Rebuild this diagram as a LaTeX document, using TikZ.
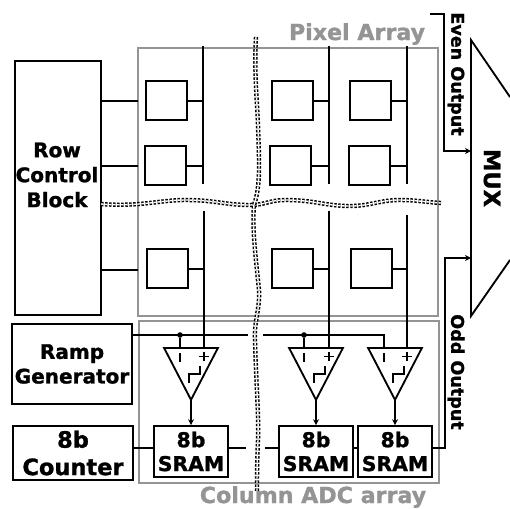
\documentclass[tikz,border=0pt]{standalone}
\usepackage{fontspec}
\setmainfont[BoldFeatures={FakeBold=1.2}]{DejaVu Sans}
\usetikzlibrary{shapes.geometric,arrows.meta}
\tikzset{
  blockbox/.style={draw,line width=1.05pt,inner sep=0pt,font=\bfseries\fontsize{11.4}{14}\selectfont,align=center},
  blocktext/.style={inner sep=0pt,font=\bfseries\fontsize{11.4}{14.2}\selectfont,align=center},
  pixelbox/.style={draw,line width=1.05pt,minimum width=23.2pt,minimum height=22.4pt,inner sep=0pt,anchor=north west},
  srambox/.style={blockbox,font=\bfseries\fontsize{11.6}{13.6}\selectfont,minimum width=41.9pt,minimum height=28.9pt},
  comparator/.style={draw,line width=1.05pt,isosceles triangle,isosceles triangle stretches,shape border rotate=-90,minimum width=30.6pt,minimum height=29.5pt,inner sep=0pt,outer sep=0pt,anchor=lower side},
  ld/.style={line width=1.05pt},
  toarrow/.style={line width=1.05pt,-{Stealth[length=3.4pt,width=3.4pt]}},
  regionbox/.style={draw=black!42,line width=1.1pt},
  regionlabel/.style={text=black!42,font=\bfseries\fontsize{12.6}{14}\selectfont},
  sidelabel/.style={font=\bfseries\fontsize{10}{12}\selectfont,rotate=-90},
  breakline/.style={double,double distance=0.8pt,line width=0.85pt,dash pattern=on 1.4pt off 0.9pt}
}

\begin{document}
\begin{tikzpicture}[x=0.02cm,y=-0.02cm]
\useasboundingbox (0,0) rectangle (510,508);

\draw[regionbox] (138,48) rectangle (438,316);
\draw[regionbox] (139,321) rectangle (439,483);
\node[regionlabel] (pixlabel) at (357,34) {Pixel Array};
\node[regionlabel] (adclabel) at (313,497) {Column ADC array};

\node[blockbox,minimum width=48.8pt,minimum height=145pt] (row) at (58,188) {};
\node[blocktext] (rowtext) at (57,175) {Row\\Control\\Block};
\node[blockbox,minimum width=68pt,minimum height=45.4pt] (ramp) at (72,364) {Ramp\\Generator};
\node[blockbox,font=\bfseries\fontsize{12.8}{15.6}\selectfont,minimum width=68pt,minimum height=30.6pt] (counter) at (73,453) {8b\\Counter};

% pixels
\node[pixelbox] (p11) at (145,80) {};
\node[pixelbox] (p12) at (271,80) {};
\node[pixelbox] (p13) at (349,80) {};
\node[pixelbox] (p21) at (144,145) {};
\node[pixelbox] (p22) at (269,145) {};
\node[pixelbox] (p23) at (348,145) {};
\node[pixelbox] (p31) at (146,248) {};
\node[pixelbox] (p32) at (271,248) {};
\node[pixelbox] (p33) at (350,248) {};

\node[comparator] (c1) at (191,348) {};
\node[comparator] (c2) at (316,348) {};
\node[comparator] (c3) at (395,348) {};

\node[srambox] (s1) at (191,451.5) {8b\\SRAM};
\node[srambox] (s2) at (316,451.5) {8b\\SRAM};
\node[srambox] (s3) at (395,451.5) {8b\\SRAM};

% column lines, broken at the wavy cut
\coordinate (b1top) at (203,46);
\coordinate (b2top) at (329,46);
\coordinate (b3top) at (407,46);
\coordinate (b1end) at (203,184);
\coordinate (b2end) at (329,184);
\coordinate (b3end) at (407,184);
\coordinate (b1low) at (204,211);
\coordinate (b2low) at (329,211);
\coordinate (b3low) at (407,215);
\coordinate (b1in) at (204,348);
\coordinate (b2in) at (329,348);
\coordinate (b3in) at (407,348);
\draw[ld] (b1top)--(b1end);
\draw[ld] (b2top)--(b2end);
\draw[ld] (b3top)--(b3end);
\draw[ld] (b1low)--(b1in);
\draw[ld] (b2low)--(b2in);
\draw[ld] (b3low)--(b3in);

\draw[ld] (p11.east)--(p11.east -| b1top);
\draw[ld] (p12.east)--(p12.east -| b2top);
\draw[ld] (p13.east)--(p13.east -| b3top);
\draw[ld] (p21.east)--(p21.east -| b1top);
\draw[ld] (p22.east)--(p22.east -| b2top);
\draw[ld] (p23.east)--(p23.east -| b3top);
\draw[ld] (p31.east)--(p31.east -| b1low);
\draw[ld] (p32.east)--(p32.east -| b2low);
\draw[ld] (p33.east)--(p33.east -| b3low);

% row lines stop at the array edge
\coordinate (rowend) at (138,99);
\draw[ld] (row.east |- p11.east)--(rowend |- p11.east);
\draw[ld] (row.east |- p21.east)--(rowend |- p21.east);
\draw[ld] (row.east |- 0,270)--(rowend |- 0,270);

% ramp
\coordinate (rampa) at (132,335);
\coordinate (rampb) at (248,335);
\coordinate (rampc) at (263,335);
\coordinate (rampd) at (384,335);
\coordinate (r1in) at (180,348);
\coordinate (r2in) at (304,348);
\coordinate (r3in) at (384,348);
\node[circle,fill=black,inner sep=0pt,minimum size=3.2pt] (dot1) at (180,335) {};
\node[circle,fill=black,inner sep=0pt,minimum size=3.2pt] (dot2) at (304,335) {};
\draw[ld] (rampa)--(rampb);
\draw[ld] (rampc)--(rampd)--(r3in);
\draw[ld] (dot1)--(r1in);
\draw[ld] (dot2)--(r2in);

% signs and step inside the comparators
\draw[ld] (180,353)--(180,362);
\draw[ld] (199,356.5)--(209,356.5) (204,352)--(204,361);
\draw[ld] (189,383)--(189,374)--(200,374)--(200,366);
\draw[ld] (304,353)--(304,362);
\draw[ld] (324,356.5)--(334,356.5) (329,352)--(329,361);
\draw[ld] (314,383)--(314,374)--(325,374)--(325,366);
\draw[ld] (384,353)--(384,362);
\draw[ld] (402,356.5)--(412,356.5) (407,352)--(407,361);
\draw[ld] (393,383)--(393,374)--(404,374)--(404,366);

\draw[toarrow] (c1.apex)--(s1.north);
\draw[toarrow] (c2.apex)--(s2.north);
\draw[toarrow] (c3.apex)--(s3.north);

% sram chain
\coordinate (chaina) at (246,448);
\coordinate (chainb) at (265,448);
\coordinate (oddturn) at (445,448);
\draw[ld] (counter.east |- chaina)--(s1.west |- chaina);
\draw[ld] (s1.east |- chaina)--(chaina);
\draw[ld] (chainb)--(s2.west |- chainb);
\draw[ld] (s2.east |- chaina)--(s3.west |- chaina);

% mux
\coordinate (muxtop) at (471,40);
\coordinate (muxbot) at (471,316);
\coordinate (muxtr) at (510,97);
\coordinate (muxbr) at (510,260);
\draw[ld] (muxtr)--(muxtop)--(muxbot)--(muxbr);
\node[sidelabel,font=\bfseries\fontsize{12.8}{14}\selectfont] (mux) at (492,178) {MUX};

\coordinate (evenstart) at (430,14);
\draw[toarrow] (evenstart)-|(444,151)--(muxtop |- 0,151);
\draw[toarrow] (s3.east |- oddturn)--(oddturn)--(445,258)--(muxtop |- 0,258);
\node[sidelabel] (even) at (456,74) {Even Output};
\node[sidelabel] (odd) at (456,372) {Odd Output};

% wavy cuts
\draw[breakline] (101,204) .. controls (140,207) and (160,200) .. (185,200) .. controls (215,200) and (225,205) .. (250,205) .. controls (265,205) and (270,200) .. (285,200) .. controls (315,200) and (325,206) .. (350,206) .. controls (370,206) and (380,200) .. (400,200) .. controls (415,200) and (425,202) .. (441,203);
\draw[breakline] (256,37) .. controls (254,70) and (257,100) .. (258,125) .. controls (259,160) and (261,185) .. (254,205) .. controls (252,230) and (256,260) .. (259,290) .. controls (260,310) and (254,320) .. (255,340) .. controls (256,380) and (259,420) .. (258,440) .. controls (257,460) and (257,480) .. (257,492);

\end{tikzpicture}
\end{document}
